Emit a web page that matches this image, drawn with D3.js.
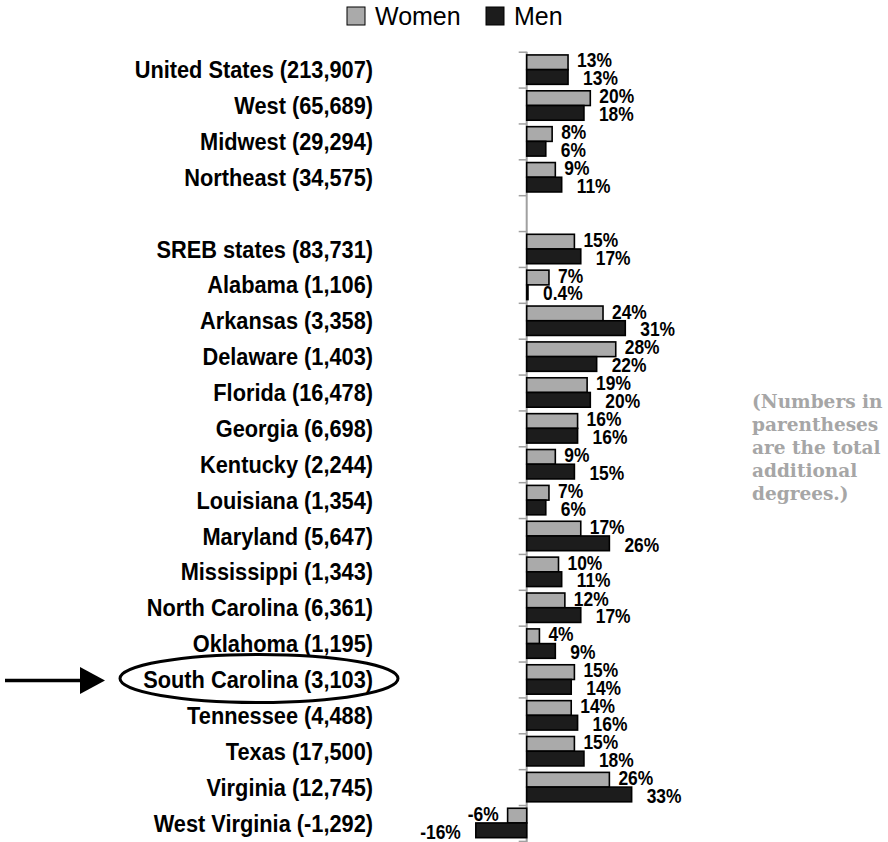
<!DOCTYPE html>
<html>
<head>
<meta charset="utf-8">
<script src="https://cdn.jsdelivr.net/npm/d3@7"></script>
<style>
  body { margin: 0; background: #fff; }
  svg { display: block; }
  .cat { font-family: "Liberation Sans", Arial, sans-serif; font-weight: bold; font-size: 23.8px; fill: #000; }
  .val { font-family: "Liberation Sans", Arial, sans-serif; font-weight: bold; font-size: 20px; fill: #000; }
  .legend text { font-family: "Liberation Sans", Arial, sans-serif; font-size: 25px; fill: #000; }
  .note { font-family: Georgia, "DejaVu Serif", serif; font-weight: bold; font-size: 18.5px; fill: #a6a6a6; }
  .axis path, .axis line { stroke: #a0a0a0; }
</style>
</head>
<body>
<div id="chart"></div>
<script>
// data
const categories = ['United States', 'West', 'Midwest', 'Northeast', '',
  'SREB states', 'Alabama', 'Arkansas', 'Delaware', 'Florida', 'Georgia',
  'Kentucky', 'Louisiana', 'Maryland', 'Mississippi', 'North Carolina',
  'Oklahoma', 'South Carolina', 'Tennessee', 'Texas', 'Virginia', 'West Virginia'];
const totals = [213907, 65689, 29294, 34575, null,
  83731, 1106, 3358, 1403, 16478, 6698,
  2244, 1354, 5647, 1343, 6361,
  1195, 3103, 4488, 17500, 12745, -1292];
const women = [13, 20, 8, 9, null,
  15, 7, 24, 28, 19, 16,
  9, 7, 17, 10, 12,
  4, 15, 14, 15, 26, -6];
const men = [13, 18, 6, 11, null,
  17, 0.4, 31, 22, 20, 16,
  15, 6, 26, 11, 17,
  9, 14, 16, 18, 33, -16];
const seriesNames = ['Women', 'Men'];
const seriesColors = ['#aaaaaa', '#1c1c1c'];
const highlighted = 'South Carolina';
const noteLines = ['(Numbers in', 'parentheses', 'are the total', 'additional', 'degrees.)'];

// constants
const width = 888,
      height = 842,
      zeroX = 526.7,
      pxPerPoint = 3.18,
      plotTop = 51.7,
      plotBottom = 840.9,
      labelRight = 373,
      catNarrow = 0.915,  // the original type is a little condensed
      valNarrow = 0.87;

const fmtInt = d3.format(',');
const signed = v => (v < 0 ? '-' : '') + fmtInt(Math.abs(v));
const pct = v => (v < 0 ? '-' : '') + Math.abs(v) + '%';

const rows = categories.map((name, i) => ({
  key: name || 'gap-' + i,
  name,
  total: totals[i],
  values: [women[i], men[i]]
}));

// scales
const xScale = d3.scaleLinear()
  .domain([-20, 40])
  .range([zeroX - 20 * pxPerPoint, zeroX + 40 * pxPerPoint]);

const yScale = d3.scaleBand()
  .domain(rows.map(d => d.key))
  .range([plotTop, plotBottom])
  .paddingInner(0.18)
  .paddingOuter(0.09);

const subScale = d3.scaleBand()
  .domain(seriesNames)
  .range([0, yScale.bandwidth()]);

// category boundaries for the tick marks
const edgeScale = d3.scaleLinear()
  .domain([0, rows.length])
  .range([plotTop, plotBottom]);

const $svg = d3.select('#chart').append('svg')
  .attr('width', width)
  .attr('height', height);

// axis
$svg.append('g')
  .classed('axis', true)
  .attr('transform', `translate(${xScale(0)}, 0)`)
  .call(d3.axisLeft(edgeScale)
    .tickValues(d3.range(rows.length + 1))
    .tickSize(8)
    .tickSizeOuter(0)
    .tickFormat(''))
  .call(g => g.select('.domain').attr('stroke-width', 2).attr('d', `M0,${plotTop}V${height}`))
  .call(g => g.selectAll('.tick line').attr('stroke-width', 1.5));

// bars
const $rows = $svg.append('g')
  .selectAll('g')
  .data(rows.filter(d => d.name))
  .enter()
  .append('g')
  .attr('transform', d => `translate(0, ${yScale(d.key)})`);

$rows.selectAll('rect')
  .data(d => d.values.map((v, i) => ({ v, s: seriesNames[i], c: seriesColors[i] })))
  .enter()
  .append('rect')
  .attr('x', d => xScale(Math.min(0, d.v)))
  .attr('y', d => subScale(d.s))
  .attr('width', d => Math.abs(xScale(d.v) - xScale(0)))
  .attr('height', subScale.bandwidth())
  .style('fill', d => d.c)
  .style('stroke', '#000')
  .style('stroke-width', 1.6);

// value labels, men sit a bit further out like the original
$rows.selectAll('text')
  .data(d => d.values.map((v, i) => ({ v, s: seriesNames[i], gap: i === 0 ? 9 : 15 })))
  .enter()
  .append('text')
  .classed('val', true)
  .attr('transform', d => {
    let x = d.v < 0 ? xScale(d.v) - d.gap : xScale(d.v) + d.gap;
    let y = subScale(d.s) + subScale.bandwidth() / 2 + (d.s === 'Women' ? -2 : 1);
    return `translate(${x}, ${y}) scale(${valNarrow}, 1)`;
  })
  .attr('dy', '0.36em')
  .attr('text-anchor', d => d.v < 0 ? 'end' : 'start')
  .text(d => pct(d.v));

// category labels
$svg.append('g')
  .selectAll('text')
  .data(rows.filter(d => d.name))
  .enter()
  .append('text')
  .classed('cat', true)
  .attr('transform', d => `translate(${labelRight}, ${yScale(d.key) + yScale.bandwidth() / 2}) scale(${catNarrow}, 1)`)
  .attr('dy', '0.36em')
  .attr('text-anchor', 'end')
  .text(d => `${d.name} (${signed(d.total)})`);

// highlight: ellipse round the label and an arrow pointing at it
const hl = rows.find(d => d.name === highlighted);
const hy = yScale(hl.key) + yScale.bandwidth() / 2 - 1;
const ell = { cx: labelRight - 114, rx: 139, ry: 24 };

$svg.append('ellipse')
  .attr('cx', ell.cx)
  .attr('cy', hy)
  .attr('rx', ell.rx)
  .attr('ry', ell.ry)
  .style('fill', 'none')
  .style('stroke', '#000')
  .style('stroke-width', 3);

const tip = ell.cx - ell.rx - 15;
$svg.append('line')
  .attr('x1', 5)
  .attr('x2', tip - 22)
  .attr('y1', hy + 2)
  .attr('y2', hy + 2)
  .style('stroke', '#000')
  .style('stroke-width', 3.5);

$svg.append('path')
  .attr('d', `M${tip},${hy + 2}L${tip - 25},${hy + 2 - 13.5}L${tip - 25},${hy + 2 + 13.5}Z`)
  .style('fill', '#000');

// legend
const $legend = $svg.append('g').classed('legend', true);
const legendX = [347, 486];
seriesNames.forEach((name, i) => {
  $legend.append('rect')
    .attr('x', legendX[i])
    .attr('y', 7)
    .attr('width', 18)
    .attr('height', 18)
    .style('fill', seriesColors[i])
    .style('stroke', '#000')
    .style('stroke-width', 1);
  $legend.append('text')
    .attr('x', legendX[i] + 28)
    .attr('y', 25)
    .text(name);
});

// note on the right
$svg.append('g')
  .selectAll('text')
  .data(noteLines)
  .enter()
  .append('text')
  .classed('note', true)
  .attr('x', 752)
  .attr('y', (d, i) => 408 + i * 23)
  .text(d => d);
</script>
</body>
</html>
